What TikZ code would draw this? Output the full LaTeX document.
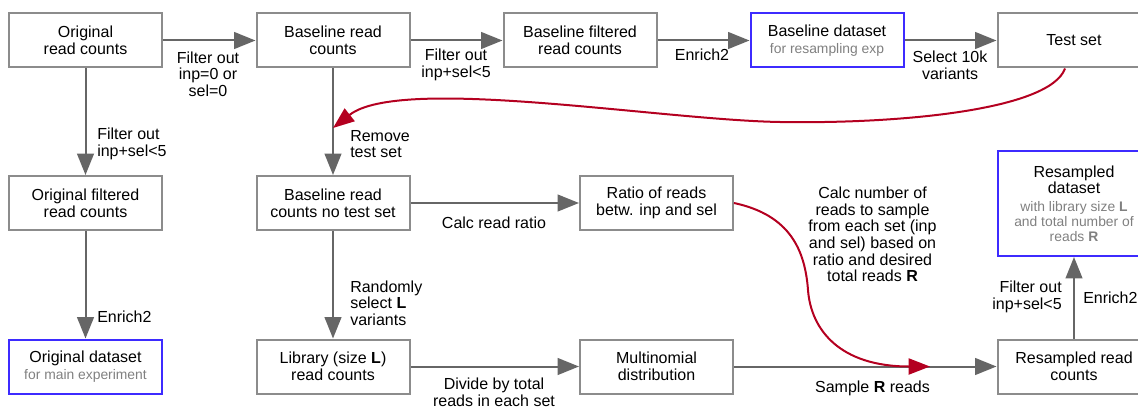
\documentclass[tikz,border=0pt]{standalone}
\usepackage{fontspec}
\setmainfont{Liberation Sans}
\usetikzlibrary{arrows.meta,calc}
\definecolor{boxgray}{HTML}{8C8C8C}
\definecolor{arrgray}{HTML}{666666}
\definecolor{boxblue}{HTML}{3D2BFF}
\definecolor{arrred}{HTML}{B40020}
\definecolor{txtgray}{HTML}{808080}
\newcommand{\sg}{\color{txtgray}\fontsize{10.4}{10.9}\selectfont}
\begin{document}
\begin{tikzpicture}[x=0.75pt,y=-0.75pt,
  every node/.style={font=\fontsize{12}{12.5}\selectfont},
  box/.style={draw=boxgray, line width=1.5pt, minimum width=114.75pt, minimum height=40.5pt, inner sep=0pt, align=center},
  bluebox/.style={box, draw=boxblue},
  arr/.style={draw=arrgray, line width=1.5pt, -{Triangle[length=16pt,width=12.5pt]}},
  redarr/.style={draw=arrred, line width=1.5pt, -{Triangle[length=16pt,width=12pt]}},
  lbl/.style={inner sep=0pt, align=center},
  lbll/.style={inner sep=0pt, align=left, anchor=west},
  lblr/.style={inner sep=0pt, align=right, anchor=east}]
\useasboundingbox (0,0) rectangle (1138,410);
\clip (0,0) rectangle (1138,410);
% row 1
\node[box] (orc) at (85.5,40.5) {Original\\read counts};
\node[box] (brc) at (333,40.5) {Baseline read\\counts};
\node[box] (bfrc) at (580,40.5) {Baseline filtered\\read counts};
\node[bluebox] (bds) at (827,40.5) {Baseline dataset\\{\sg for resampling exp}};
\node[box] (ts) at (1074,40.5) {Test set};
% row 2
\node[box] (ofrc) at (85.5,203) {Original filtered\\read counts};
\node[box] (bnts) at (333,203) {Baseline read\\counts no test set};
\node[box] (ratio) at (656.5,203) {Ratio of reads\\betw. inp and sel};
\node[bluebox, minimum height=78.75pt] (rds) at (1074,203.5) {Resampled\\dataset\\[1pt]{\sg with library size \textbf{L}}\\[-1.5pt]{\sg and total number of}\\[-1.5pt]{\sg reads \textbf{R}}};
% row 3
\node[bluebox] (ods) at (85.5,366.5) {Original dataset\\{\sg for main experiment}};
\node[box] (lib) at (333,366.5) {Library (size \textbf{L})\\read counts};
\node[box] (mult) at (656.5,366.5) {Multinomial\\distribution};
\node[box] (rrc) at (1074,366.5) {Resampled read\\counts};
% gray arrows
\draw[arr] (orc) -- (brc);
\draw[arr] (brc) -- (bfrc);
\draw[arr] (bfrc) -- (bds);
\draw[arr] (bds) -- (ts);
\draw[arr] (orc) -- (ofrc);
\draw[arr] (ofrc) -- (ods);
\draw[arr] (brc) -- (bnts);
\draw[arr] (bnts) -- (ratio);
\draw[arr] (bnts) -- (lib);
\draw[arr] (lib) -- (mult);
\draw[arr] (mult) -- (rrc);
\draw[arr] (rrc) -- (rds);
% red arrows
\coordinate (rs) at ($(ts.south)+(-9,0)$);
\coordinate (rt) at (333,128);
\draw[redarr] (rs) .. controls (1050,110) and (900,124) .. (780,122)
  .. controls (660,120) and (400,75) .. (rt);
\coordinate (rt2) at (930,366.5);
\draw[redarr] (ratio.east) .. controls (790,215) and (805,250) .. (808,290)
  .. controls (811,330) and (840,366.5) .. (rt2);
% labels
\node[lbl] (l1) at (208,74) {Filter out\\inp=0 or\\sel=0};
\node[lbl] (l2) at (456,65) {Filter out\\inp+sel<5};
\node[lbl] (l3) at (702,55) {Enrich2};
\node[lbl] (l4) at (950,65) {Select 10k\\variants};
\node[lbll] (l5) at (97,144) {Filter out\\inp+sel<5};
\node[lbll] (l6) at (97,317) {Enrich2};
\node[lbll] (l7) at (350,144) {Remove\\test set};
\node[lbl] (l8) at (494,223) {Calc read ratio};
\node[lbll] (l9) at (350,303) {Randomly\\select \textbf{L}\\variants};
\node[lbl] (l10) at (494,392) {Divide by total\\reads in each set};
\node[lbl] (l11) at (872.5,388) {Sample \textbf{R} reads};
\node[lbl] (l12) at (872.5,234.5) {Calc number of\\reads to sample\\from each set (inp\\and sel) based on\\ratio and desired\\total reads \textbf{R}};
\node[lblr] (l13) at (1062,297) {Filter out\\inp+sel<5};
\node[lbll] (l14) at (1083,298) {Enrich2};
\end{tikzpicture}
\end{document}
